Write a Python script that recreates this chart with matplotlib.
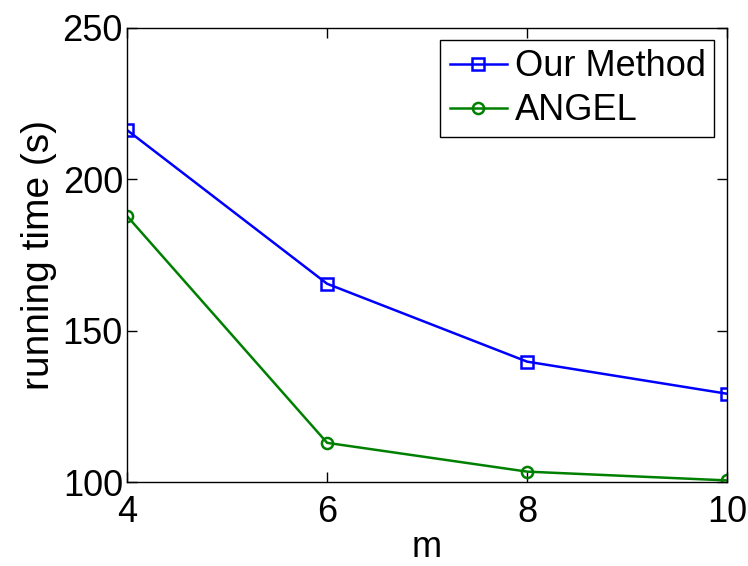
import matplotlib.pyplot as plt

plt.rcParams["font.family"] = ["Liberation Sans", "DejaVu Sans"]

m = [4, 6, 8, 10]
our_method = [216.2, 165.5, 139.8, 129.2]
angel = [187.8, 113.0, 103.5, 100.6]

fig = plt.figure(figsize=(7.48, 5.66), dpi=100)
ax = fig.add_axes([0.170, 0.148, 0.802, 0.803])

ax.plot(m, our_method, color="#0000ff", marker="s", markersize=8, markerfacecolor="none",
        markeredgewidth=1.8, linewidth=1.8, label="Our Method")
ax.plot(m, angel, color="#008000", marker="o", markersize=8, markerfacecolor="none",
        markeredgewidth=1.8, linewidth=1.8, label="ANGEL")

ax.set_xlim(4, 10)
ax.set_ylim(100, 250)
ax.set_xticks([4, 6, 8, 10])
ax.set_yticks([100, 150, 200, 250])
ax.tick_params(direction="in", top=True, right=True, labelsize=26, length=7, width=1)
ax.tick_params(axis="x", pad=9)
ax.tick_params(axis="y", pad=3)
for s in ax.spines.values():
    s.set_linewidth(1)
ax.set_xlabel("m", fontsize=26, labelpad=0)
ax.set_ylabel("running time (s)", fontsize=28, labelpad=4)

leg = ax.legend(loc="upper right", fontsize=26, fancybox=False, framealpha=1,
                edgecolor="black", handlelength=1.6, handletextpad=0.2,
                borderpad=0.25, labelspacing=0.25, borderaxespad=0.35)
leg.get_frame().set_linewidth(1)

fig.savefig("out.png", dpi=100)
